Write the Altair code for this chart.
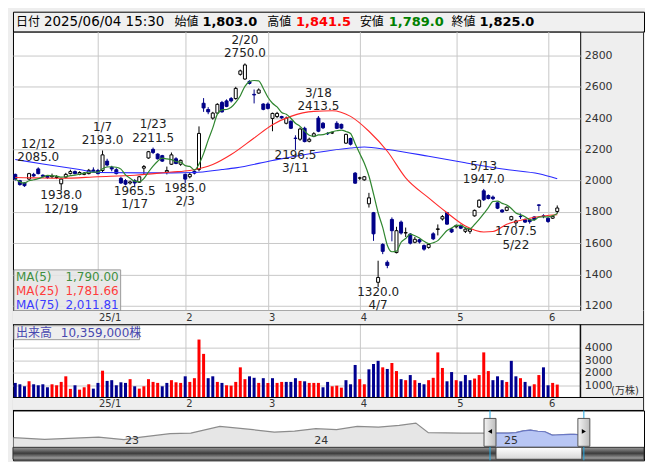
import altair as alt
import pandas as pd

FONT = "DejaVu Sans"
CJK = "DejaVu Sans, Noto Sans CJK JP"

# ---------------- data ----------------
opens = [2040, 2000, 1985, 2010, 2040, 2075, 2035, 2030, 2025, 2020, 1980, 2022, 2045, 2058, 2040, 2040, 2045, 2068,
         2065, 2065, 2125, 2085, 2070, 2015, 2000, 1985, 2000, 1990, 2080, 2145, 2200, 2170, 2160, 2055, 2105, 2140, 2105,
         2040, 2025, 2060, 2072, 2495, 2455, 2400, 2432, 2500, 2510, 2525, 2525, 2680, 2650, 2635, 2552, 2560, 2490,
         2490, 2398, 2410, 2410, 2367, 2380, 2272, 2265, 2335, 2252, 2284, 2400, 2367, 2302, 2305, 2367, 2360, 2240, 2270, 2048,
         2016, 2005, 1852, 1795, 1350, 1592, 1478, 1752, 1540, 1735, 1665, 1658, 1606, 1622, 1585, 1573, 1660, 1688, 1755, 1795, 1690,
         1705, 1712, 1676, 1676, 1775, 1832, 1935, 1905, 1895, 1858, 1812, 1810, 1750, 1730, 1772, 1750, 1750, 1768, 1845, 1775,
         1760, 1760, 1803]
highs = [2045, 2005, 1990, 2050, 2050, 2085, 2040, 2035, 2045, 2035, 2015, 2050, 2070, 2065, 2060, 2055, 2075, 2085,
         2075, 2193, 2140, 2095, 2080, 2025, 2010, 2000, 2010, 2030, 2100, 2190, 2211.5, 2175, 2165, 2090, 2180, 2150, 2135,
         2045, 2050, 2065, 2347, 2528, 2470, 2440, 2495, 2510, 2520, 2535, 2600, 2710, 2750, 2642, 2583, 2590, 2495,
         2500, 2435, 2440, 2415, 2410, 2385, 2290, 2340, 2345, 2275, 2310, 2413.5, 2375, 2310, 2315, 2380, 2365, 2300, 2275, 2055,
         2025, 2030, 1922, 1800, 1488, 1600, 1490, 1765, 1705, 1745, 1700, 1665, 1640, 1628, 1592, 1600, 1670, 1720, 1780, 1800, 1698,
         1720, 1720, 1700, 1695, 1815, 1880, 1947, 1912, 1905, 1862, 1818, 1835, 1775, 1750, 1790, 1758, 1755, 1772, 1848, 1785,
         1765, 1778, 1841.5]
lows = [2000, 1968, 1960, 2005, 2025, 2040, 2020, 2012, 2015, 2010, 1938, 2015, 2040, 2040, 2035, 2035, 2040, 2055,
        2040, 2055, 2090, 2060, 2040, 1980, 1970, 1975, 1965.5, 1985, 2040, 2140, 2170, 2135, 2120, 2040, 2100, 2105, 2095,
        1985, 2015, 2040, 2060, 2440, 2425, 2390, 2428, 2435, 2470, 2500, 2518, 2672, 2645, 2615, 2494, 2555, 2450,
        2455, 2316, 2400, 2395, 2360, 2330, 2196.5, 2255, 2245, 2245, 2278, 2310, 2330, 2292, 2298, 2330, 2330, 2235, 2225, 1980,
        2005, 2000, 1828, 1615, 1320, 1530, 1440, 1612, 1535, 1655, 1640, 1592, 1600, 1598, 1552, 1565, 1620, 1650, 1745, 1718, 1665,
        1695, 1690, 1665, 1660, 1770, 1825, 1870, 1880, 1875, 1818, 1795, 1805, 1745, 1707.5, 1755, 1730, 1725, 1745, 1805, 1760,
        1730, 1755, 1789]
closes = [2010, 1975, 1968, 2045, 2030, 2045, 2028, 2020, 2030, 2025, 2010, 2040, 2058, 2045, 2052, 2048, 2066, 2060,
          2045, 2165, 2100, 2075, 2045, 1985, 1978, 1992, 1985, 2025, 2090, 2185, 2180, 2140, 2125, 2065, 2165, 2110, 2130,
          2010, 2040, 2048, 2302, 2465, 2440, 2432, 2488, 2440, 2475, 2510, 2590, 2702, 2740, 2622, 2548, 2580, 2456,
          2462, 2430, 2430, 2402, 2400, 2335, 2270, 2330, 2250, 2265, 2300, 2316, 2338, 2300, 2306, 2335, 2336, 2296, 2233, 1984,
          2018, 2025, 1890, 1660, 1381, 1548, 1458, 1680, 1680, 1665, 1668, 1600, 1625, 1608, 1562, 1592, 1628, 1692, 1770, 1722, 1672,
          1712, 1696, 1690, 1690, 1810, 1875, 1878, 1886, 1885, 1824, 1800, 1830, 1770, 1742, 1770, 1735, 1738, 1752, 1842, 1772,
          1739, 1772, 1825]
volumes = [1170, 1060, 900, 1300, 1060, 980, 1060, 820, 1060, 980, 1250, 1700, 690, 980, 630, 820, 1060, 710,
           1170, 2150, 1330, 1390, 980, 1220, 1170, 1470, 900, 710, 900, 1470, 1250, 1170, 900, 1170, 1390, 1220, 1170,
           1700, 1250, 1550, 4650, 3500, 1550, 1700, 1250, 1170, 980, 950, 1250, 2420, 1470, 1700, 1580, 1170, 1550,
           1170, 1550, 1170, 1250, 1250, 1250, 1550, 1330, 1300, 1170, 1170, 1170, 820, 1250, 900, 950, 790, 1390, 1060, 2610,
           1470, 1060, 2260, 2690, 2940, 2420, 2290, 2770, 2120, 1470, 1390, 1800, 1390, 1170, 1060, 1390, 1580, 3620, 2370, 1300, 2040,
           1390, 1300, 1800, 1390, 1520, 1800, 3620, 2120, 1390, 1700, 1390, 1250, 2940, 1700, 1550, 1250, 900, 1060, 1800, 2420,
           980, 1170, 1035.9]
vol_flags = ("BBBRBBBBRRRRRBRRRB" "BRBBBBBRBRRRRRBBRRR" "BRRRRBBRBRRRRRBBRB"
             "RBRRBBBRBRRRBBRRRBBB" "RRBBBRBRRBRBRBBRRRRBB" "RBBBRRRRBBBRBBRBBRRB" "BRR")

month_idx = [18, 37, 55, 75, 96, 116]
month_lbl = ["25/1", "2", "3", "4", "5", "6"]

ma25_idx = [0, 4, 10, 18, 26, 34, 38, 43, 47, 52, 56, 60, 65, 69, 73, 77, 81, 85, 90, 94, 98, 102, 104, 107, 111, 115, 118]
ma25_val = [2020, 2018, 2015, 2025, 2035, 2055, 2065, 2103, 2167, 2273, 2358, 2411, 2443, 2447, 2411, 2316, 2188, 2018,
            1890, 1795, 1710, 1672, 1675, 1721, 1753, 1774, 1781.66]
ma75_idx = [0, 6, 14, 18, 28, 34, 39, 45, 48, 56, 65, 73, 76, 81, 90, 98, 107, 114, 118]
ma75_val = [2135, 2107, 2071, 2052, 2050, 2050, 2052, 2071, 2082, 2129, 2177, 2209, 2215, 2199, 2156, 2114, 2071, 2044, 2011.81]

ann_idx = [5, 10, 19, 26, 30, 37, 50, 61, 66, 79, 102, 109]
ann_date = ["12/12", "12/19", "1/7", "1/17", "1/23", "2/3", "2/20", "3/11", "3/18", "4/7", "5/13", "5/22"]
ann_val = [2085.0, 1938.0, 2193.0, 1965.5, 2211.5, 1985.0, 2750.0, 2196.5, 2413.5, 1320.0, 1947.0, 1707.5]
ann_pos = ["above", "below", "above", "below", "above", "below", "above", "below", "above", "below", "above", "below"]

ma_names = ["MA(5)", "MA(25)", "MA(75)"]
ma_last = ["1,790.00", "1,781.66", "2,011.81"]
ma_colors = ["#3f8f3f", "#ff3c3c", "#3c3cff"]

head_names = ["日付", "始値", "高値", "安値", "終値"]
head_vals = ["2025/06/04 15:30", "1,803.0", "1,841.5", "1,789.0", "1,825.0"]
head_colors = ["#000000", "#000000", "#ff0000", "#008000", "#000000"]

vol_title = "出来高"
vol_last = "10,359,000株"
vol_unit = "(万株)"

nav_dates = ["2022-05-31", "2022-07-30", "2022-11-11", "2022-12-30", "2023-02-01", "2023-03-29", "2023-05-08",
             "2023-07-03", "2023-09-05", "2023-10-16", "2023-11-24", "2024-01-04", "2024-02-13", "2024-03-24",
             "2024-05-04", "2024-06-13", "2024-07-15", "2024-08-08", "2024-10-12", "2024-11-21",
             "2024-12-05", "2024-12-13", "2024-12-20", "2024-12-27", "2025-01-10", "2025-01-24", "2025-02-07",
             "2025-02-21", "2025-03-07", "2025-03-21", "2025-04-04", "2025-04-11", "2025-04-25", "2025-05-09",
             "2025-05-16", "2025-05-23", "2025-06-04"]
nav_vals = [1170, 845, 1284, 788, 1284, 1934, 2049, 3328, 2698, 2239, 2430, 2889, 2698, 3328, 3194, 3519, 3958, 2125,
            2049, 2049, 2010, 2045, 2048, 2060, 2045, 2140, 2465, 2622, 2400, 2300, 1660, 1680, 1770, 1810, 1824,
            1770, 1825]
sel_start, sel_end = "2024-12-05", "2025-06-04"
year_dates = ["2023-01-01", "2024-01-01", "2025-01-01"]
year_lbls = ["23", "24", "25"]

# ---------------- layout ----------------
W = 569
FULL_W = 633
H_HEAD = 20
H_PRICE = 280
STRIP_T = 14
H_VOLPLOT = 73
STRIP_B = 13
H_VOL = STRIP_T + H_VOLPLOT + STRIP_B
H_NAV = 50
GRID = "#c8c8c8"
BG = "#eeeeee"
LH = 13.5

df = pd.DataFrame({"i": range(len(opens)), "o": opens, "h": highs, "l": lows, "c": closes})
df["dir"] = ["up" if c >= o else "down" for o, c in zip(opens, closes)]
vdf = pd.DataFrame({"i": range(len(volumes)), "v": volumes,
                    "d": ["rise" if f == "R" else "fall" for f in vol_flags]})
ma25_df = pd.DataFrame({"i": ma25_idx, "v": ma25_val})
ma75_df = pd.DataFrame({"i": ma75_idx, "v": ma75_val})
ann_df = pd.DataFrame({"i": ann_idx, "v": ann_val, "pos": ann_pos,
                       "txt": [f"{d}\n{v:.1f}" if p == "above" else f"{v:.1f}\n{d}"
                               for d, v, p in zip(ann_date, ann_val, ann_pos)]})
month_df = pd.DataFrame({"i": month_idx, "t": month_lbl})
one = pd.DataFrame({"k": [0]})

xscale = alt.Scale(domain=[-0.5, 123], nice=False, zero=False, padding=0)
x_axis = alt.Axis(values=month_idx, grid=True, gridColor=GRID, domain=False, ticks=False, labels=False, title=None)


def X(f):
    return alt.X(f"{f}:Q", scale=xscale, axis=x_axis)


pscale = alt.Scale(domain=[1168, 2953], nice=False, zero=False)
p_axis = alt.Axis(orient="right", values=list(range(1200, 2801, 200)), format="d", grid=True, gridColor=GRID,
                  domain=False, ticks=False, labelPadding=4, labelFontSize=11, labelColor="#333", labelFont=FONT,
                  title=None)


def YP(f):
    return alt.Y(f"{f}:Q", scale=pscale, axis=p_axis)


dir_dom = ["up", "down"]
NAVY = "#000088"

wick = alt.Chart(df).mark_rule(strokeWidth=1).encode(
    x=X("i"), y=YP("l"), y2="h:Q",
    color=alt.Color("dir:N", scale=alt.Scale(domain=dir_dom, range=["#000000", NAVY]), legend=None))
body = alt.Chart(df).mark_bar(size=3, strokeWidth=1).encode(
    x=X("i"), y=YP("o"), y2="c:Q",
    fill=alt.Fill("dir:N", scale=alt.Scale(domain=dir_dom, range=["#ffffff", NAVY]), legend=None),
    stroke=alt.Stroke("dir:N", scale=alt.Scale(domain=dir_dom, range=["#000000", NAVY]), legend=None))
ma5 = alt.Chart(df).transform_window(
    ma5="mean(c)", frame=[-4, 0], sort=[alt.SortField("i")]
).mark_line(color="#2f862f", strokeWidth=1.2, interpolate="monotone").encode(x=X("i"), y=YP("ma5"))
ma25 = alt.Chart(ma25_df).mark_line(color="#ff2a2a", strokeWidth=1.1, interpolate="monotone").encode(
    x=X("i"), y=YP("v"))
ma75 = alt.Chart(ma75_df).mark_line(color="#2a2aff", strokeWidth=1.1, interpolate="monotone").encode(
    x=X("i"), y=YP("v"))
ann_above = alt.Chart(ann_df).transform_filter("datum.pos == 'above'").mark_text(
    baseline="bottom", dy=-3 - LH, fontSize=12, font=FONT, lineBreak="\n", lineHeight=LH, color="#222"
).encode(x=X("i"), y=YP("v"), text="txt:N")
ann_below = alt.Chart(ann_df).transform_filter("datum.pos == 'below'").mark_text(
    baseline="top", dy=0, fontSize=12, font=FONT, lineBreak="\n", lineHeight=LH, color="#222"
).encode(x=X("i"), y=YP("v"), text="txt:N")

leg_box = alt.Chart(one).mark_rect(fill="#e4e4e4", fillOpacity=0.85, stroke="#9a9a9a", strokeWidth=1).encode(
    x=alt.value(1), x2=alt.value(108), y=alt.value(239), y2=alt.value(280))
leg_layers = []
for k, (nm, lv, col) in enumerate(zip(ma_names, ma_last, ma_colors)):
    yy = 246 + 14 * k
    leg_layers.append(alt.Chart(one).mark_text(align="left", baseline="middle", fontSize=12, font=FONT,
                                               color=col).encode(x=alt.value(3), y=alt.value(yy),
                                                                 text=alt.value(nm)))
    leg_layers.append(alt.Chart(one).mark_text(align="right", baseline="middle", fontSize=12, font=FONT,
                                               color=col).encode(x=alt.value(106), y=alt.value(yy),
                                                                 text=alt.value(lv)))
p_frame = alt.Chart(one).mark_rule(color="#333", strokeWidth=1).encode(
    x=alt.value(FULL_W - 0.5), y=alt.value(0), y2=alt.value(H_PRICE))

price = alt.layer(wick, body, ma75, ma25, ma5, ann_above, ann_below, leg_box, *leg_layers, p_frame).properties(
    width=W, height=H_PRICE, view=alt.ViewBackground(fill="white", stroke="#000000", strokeWidth=1))

# ---------------- volume (with the two date strips) ----------------
px_per_k = 12.5
v_top = (STRIP_T + H_VOLPLOT) / px_per_k * 1000
v_bot = -STRIP_B / px_per_k * 1000
vscale = alt.Scale(domain=[v_bot, v_top], nice=False, zero=False)
v_axis = alt.Axis(orient="right", values=[1000, 2000, 3000, 4000], format="d", grid=True, gridColor=GRID,
                  domain=False, ticks=False, labelPadding=4, labelFontSize=11, labelColor="#333", labelFont=FONT,
                  title=None)
vbars = alt.Chart(vdf).mark_bar(size=3).encode(
    x=X("i"), y=alt.Y("v:Q", scale=vscale, axis=v_axis), y2=alt.datum(0),
    color=alt.Color("d:N", scale=alt.Scale(domain=["rise", "fall"], range=["#ff0000", "#000090"]), legend=None))
strip_top = alt.Chart(one).mark_rect(fill=BG).encode(
    x=alt.value(0), x2=alt.value(FULL_W), y=alt.value(0), y2=alt.value(STRIP_T))
strip_bot = alt.Chart(one).mark_rect(fill=BG).encode(
    x=alt.value(0), x2=alt.value(FULL_W), y=alt.value(STRIP_T + H_VOLPLOT), y2=alt.value(H_VOL))
b1 = alt.Chart(one).mark_rule(color="#000", strokeWidth=1).encode(
    x=alt.value(0), x2=alt.value(FULL_W), y=alt.value(STRIP_T))
b2 = alt.Chart(one).mark_rule(color="#000", strokeWidth=1).encode(
    x=alt.value(0), x2=alt.value(FULL_W), y=alt.value(STRIP_T + H_VOLPLOT))
b3 = alt.Chart(one).mark_rule(color="#000", strokeWidth=1).encode(
    x=alt.value(0), x2=alt.value(FULL_W), y=alt.value(H_VOL))
v_side = alt.Chart(one).mark_rule(color="#000", strokeWidth=1).encode(
    x=alt.value(W), y=alt.value(STRIP_T), y2=alt.value(STRIP_T + H_VOLPLOT))
v_frame = alt.Chart(one).mark_rule(color="#333", strokeWidth=1).encode(
    x=alt.value(FULL_W - 0.5), y=alt.value(0), y2=alt.value(H_VOL))
m_top = alt.Chart(month_df).mark_text(align="left", baseline="middle", dx=1, fontSize=10, font=FONT,
                                      color="#333").encode(x=X("i"), y=alt.value(STRIP_T / 2 + 0.5), text="t:N")
m_bot = alt.Chart(month_df).mark_text(align="left", baseline="middle", dx=1, fontSize=10, font=FONT,
                                      color="#333").encode(x=X("i"), y=alt.value(STRIP_T + H_VOLPLOT + 6.5),
                                                           text="t:N")
vbox = alt.Chart(one).mark_rect(fill="#ececec", fillOpacity=0.9, stroke="#9a9a9a").encode(
    x=alt.value(1), x2=alt.value(127), y=alt.value(STRIP_T + 1), y2=alt.value(STRIP_T + 15))
vt1 = alt.Chart(one).mark_text(align="left", baseline="middle", fontSize=12, font=CJK, color="#4848b0").encode(
    x=alt.value(3), y=alt.value(STRIP_T + 8), text=alt.value(vol_title))
vt2 = alt.Chart(one).mark_text(align="left", baseline="middle", fontSize=12, font=CJK, color="#4848b0").encode(
    x=alt.value(48), y=alt.value(STRIP_T + 8), text=alt.value(vol_last))
vunit = alt.Chart(one).mark_text(align="left", baseline="middle", fontSize=10, font=CJK, color="#333").encode(
    x=alt.value(W + 31), y=alt.value(STRIP_T + 67), text=alt.value(vol_unit))
volume = alt.layer(vbars, strip_top, strip_bot, b1, b2, b3, v_side, v_frame, m_top, m_bot, vbox, vt1, vt2,
                   vunit).properties(
    width=W, height=H_VOL, view=alt.ViewBackground(fill="white", stroke="#000000", strokeWidth=1))

# ---------------- header ----------------
name_x = [3, 162, 255, 348, 440]
val_x = [31, 190, 284, 377, 468]
hlayers = []
for k, (nm, vv, col) in enumerate(zip(head_names, head_vals, head_colors)):
    hlayers.append(alt.Chart(one).mark_text(align="left", baseline="middle", fontSize=12, font=CJK,
                                            color="#000").encode(x=alt.value(name_x[k]), y=alt.value(10.5),
                                                                 text=alt.value(nm)))
    hlayers.append(alt.Chart(one).mark_text(align="left", baseline="middle", fontSize=13.5 if k == 0 else 13,
                                            font=FONT, color=col,
                                            fontWeight="normal" if k == 0 else "bold").encode(
        x=alt.value(val_x[k]), y=alt.value(10.5), text=alt.value(vv)))
header = alt.layer(*hlayers).properties(
    width=FULL_W, height=H_HEAD, view=alt.ViewBackground(fill="#f0f0f0", stroke="#000000", strokeWidth=1))

# ---------------- navigator ----------------
nav_df = pd.DataFrame({"d": nav_dates, "v": nav_vals})
sel_df = nav_df[nav_df["d"] >= sel_start]
tscale = alt.Scale(domain=[alt.DateTime(year=2022, month=5, date=30), alt.DateTime(year=2025, month=9, date=28)])
nscale = alt.Scale(domain=[-3166, 6384], nice=False, zero=False)
NX = lambda f: alt.X(f"{f}:T", scale=tscale, axis=None)
base_v = -683
n_area = alt.Chart(nav_df).mark_area(color="#e6e6e6").encode(
    x=NX("d"), y=alt.Y("v:Q", scale=nscale, axis=None), y2=alt.datum(base_v))
n_line = alt.Chart(nav_df).mark_line(color="#8c8c8c", strokeWidth=1.2).encode(
    x=NX("d"), y=alt.Y("v:Q", scale=nscale, axis=None))
s_area = alt.Chart(sel_df).mark_area(color="#b8c6f4").encode(
    x=NX("d"), y=alt.Y("v:Q", scale=nscale, axis=None), y2=alt.datum(base_v))
s_line = alt.Chart(sel_df).mark_line(color="#6a78c4", strokeWidth=1.2).encode(
    x=NX("d"), y=alt.Y("v:Q", scale=nscale, axis=None))
yr_df = pd.DataFrame({"d": year_dates, "t": year_lbls})
yr_txt = alt.Chart(yr_df).mark_text(align="left", baseline="middle", fontSize=11, font=FONT, color="#333",
                                    dx=0).encode(x=NX("d"), y=alt.value(31), text="t:N")
scroll = alt.Chart(one).mark_rect(
    fill=alt.Gradient(gradient="linear", x1=0, y1=0, x2=0, y2=1,
                      stops=[alt.GradientStop(color="#9a9a9a", offset=0),
                             alt.GradientStop(color="#3c3c3c", offset=0.5),
                             alt.GradientStop(color="#b0b0b0", offset=1)]),
    stroke="#333").encode(x=alt.value(0), x2=alt.value(FULL_W), y=alt.value(37), y2=alt.value(49))
sel_rng = pd.DataFrame({"a": [sel_start], "b": [sel_end]})
thumb = alt.Chart(sel_rng).mark_rect(
    fill=alt.Gradient(gradient="linear", x1=0, y1=0, x2=0, y2=1,
                      stops=[alt.GradientStop(color="#ffffff", offset=0),
                             alt.GradientStop(color="#d6d6d6", offset=1)]),
    stroke="#444", x2Offset=-2, xOffset=6).encode(x=NX("a"), x2="b:T", y=alt.value(37), y2=alt.value(49))
h_df = pd.DataFrame({"d": [sel_start, sel_end], "s": ["triangle-left", "triangle-right"]})
cyan = alt.Chart(h_df).mark_rule(color="#22a8e0", strokeWidth=1).encode(
    x=NX("d"), y=alt.value(0), y2=alt.value(H_NAV))
handles = alt.Chart(h_df).mark_rect(
    fill=alt.Gradient(gradient="linear", x1=0, y1=0, x2=1, y2=0,
                      stops=[alt.GradientStop(color="#f4f4f4", offset=0),
                             alt.GradientStop(color="#bcbcbc", offset=1)]),
    stroke="#555", xOffset=-6, x2Offset=6).encode(x=NX("d"), x2="d:T", y=alt.value(8), y2=alt.value(36))
tri = alt.Chart(h_df).mark_point(filled=True, size=22, color="#000", opacity=1).encode(
    x=NX("d"), y=alt.value(21), shape=alt.Shape("s:N", scale=None))
nav = alt.layer(n_area, n_line, s_area, s_line, yr_txt, scroll, thumb, cyan, handles, tri).properties(
    width=FULL_W, height=H_NAV, view=alt.ViewBackground(fill="white", stroke="#000000", strokeWidth=1))

chart = alt.vconcat(header, price, volume, nav, spacing=0, bounds="flush").properties(
    background=BG, padding={"left": 2, "top": 2, "right": 0, "bottom": 0}
).resolve_scale(x="independent", color="independent", fill="independent", stroke="independent")

chart.save("out.html", embed_options={"renderer": "svg", "actions": False})
